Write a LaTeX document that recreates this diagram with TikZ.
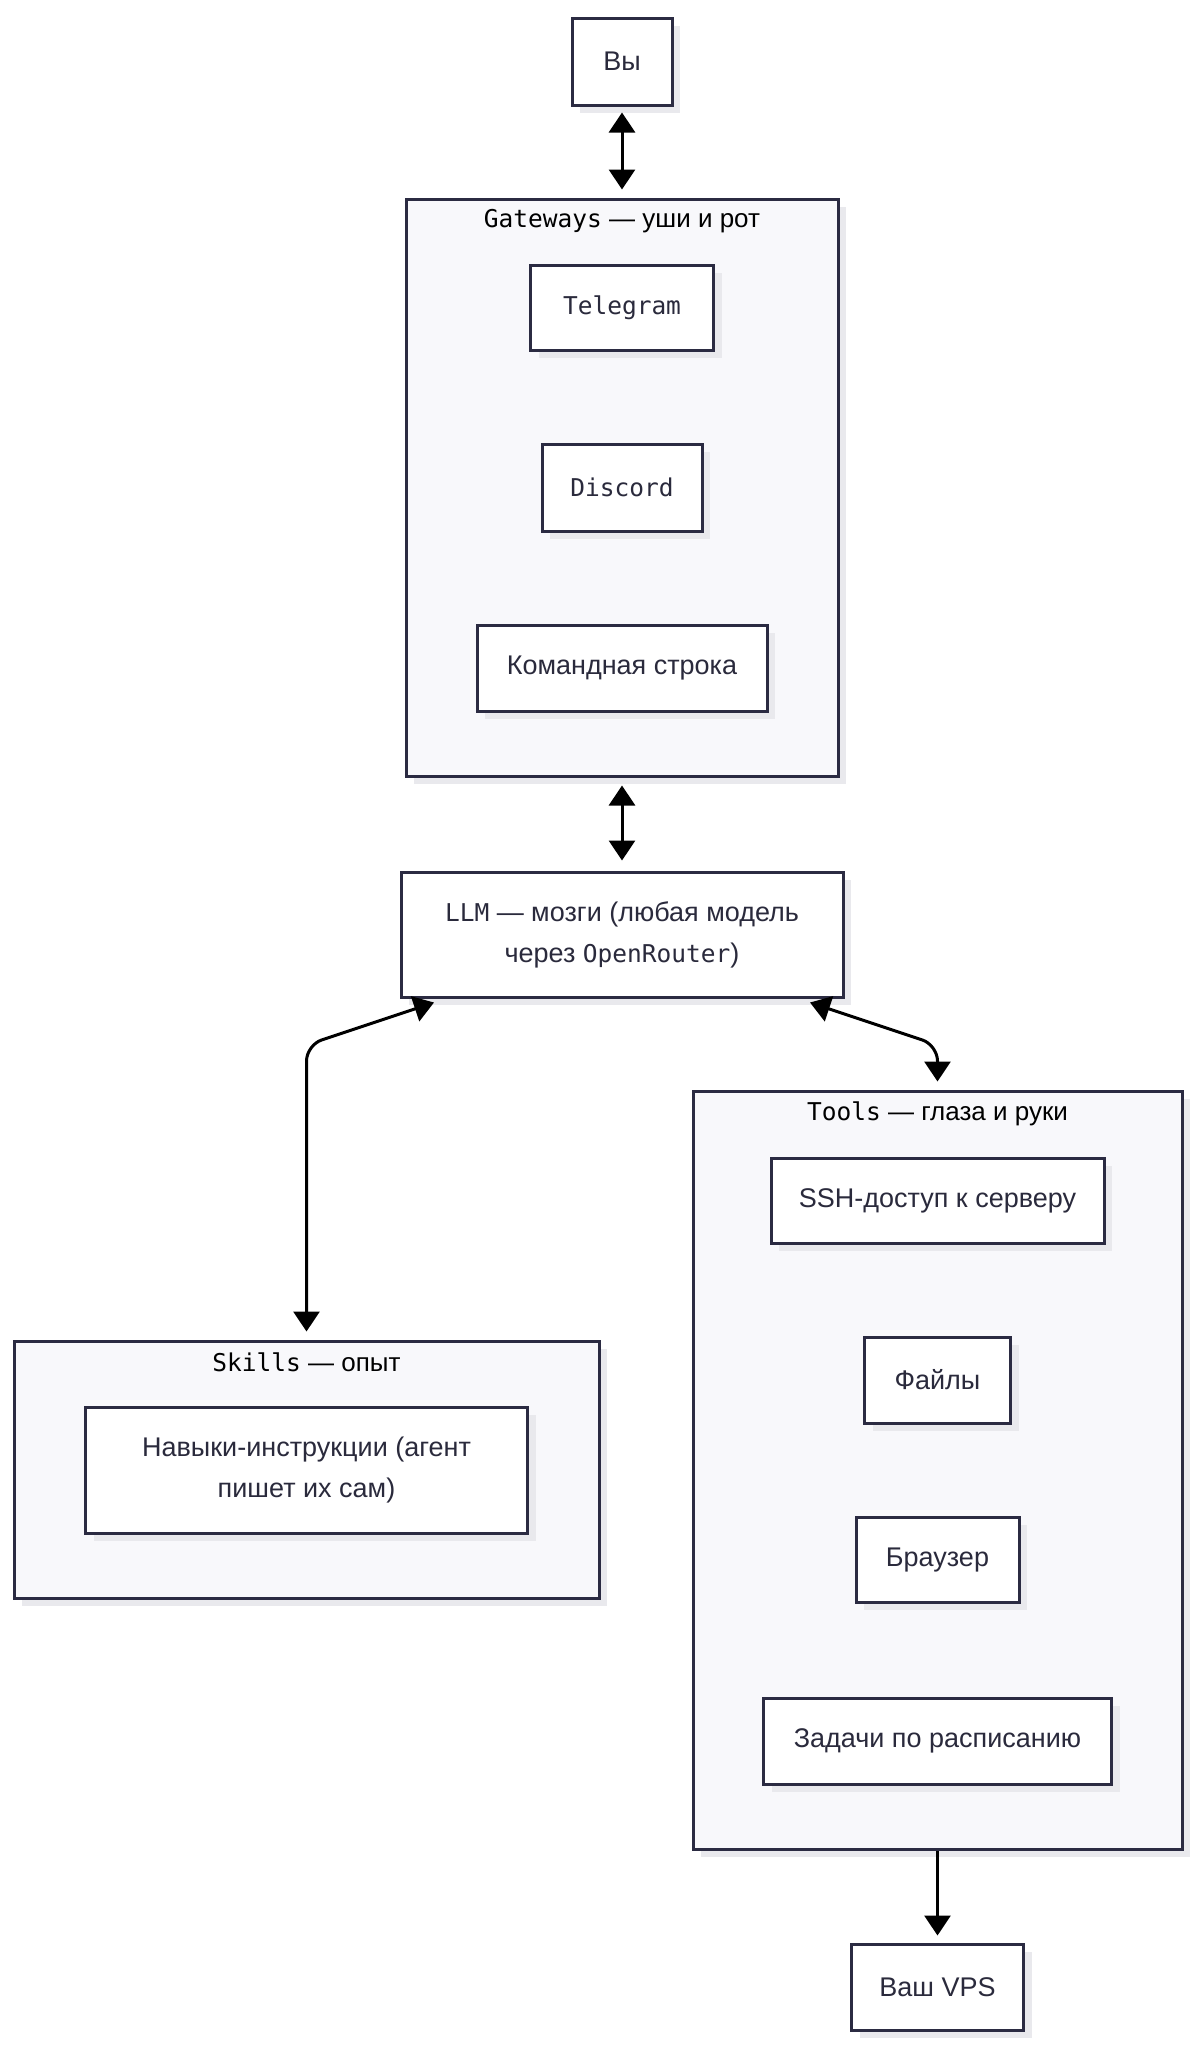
\documentclass[tikz,border=0pt]{standalone}
\usepackage{fontspec}
\setmainfont{Liberation Sans}
\newfontfamily\monofont{DejaVu Sans Mono}
\usetikzlibrary{arrows.meta,shadows,calc}
\definecolor{bordc}{HTML}{2B2B42}
\definecolor{txtc}{HTML}{2A2A3C}
\definecolor{clfill}{HTML}{F8F8FB}
\definecolor{shadc}{HTML}{E9E9ED}
\newcommand\mtxt[1]{{\monofont\fontsize{24.5}{41}\selectfont #1}}
\tikzset{
  boxbase/.style={draw=bordc, line width=3pt, inner sep=0pt,
    drop shadow={shadow xshift=8pt, shadow yshift=-8pt, fill=shadc, opacity=1}},
  nodebox/.style={boxbase, fill=white, text=txtc, align=center,
    font=\fontsize{27}{41}\selectfont},
  clusterbox/.style={boxbase, fill=clfill},
  cltitle/.style={text=black, inner sep=0pt, font=\fontsize{26}{34}\selectfont},
  conn/.style={draw=black, line width=3pt},
  tipd/.style={-{Triangle[length=20pt,width=26pt]}},
  tipdd/.style={{Triangle[length=20pt,width=26pt]}-{Triangle[length=20pt,width=26pt]}}
}
\begin{document}
\begin{tikzpicture}[x=1pt,y=-1pt]
\useasboundingbox (0,0) rectangle (1197,2048);
\fill[white] (0,0) rectangle (1197,2048);

% top node
\node[nodebox, minimum width=100pt, minimum height=87pt] (you) at (622,61.5) {Вы};

% Gateways cluster
\node[clusterbox, minimum width=432pt, minimum height=577pt] (gw) at (622,487.5) {};
\node[cltitle] (gwt) at ($(gw.north)+(0,24)$) {\mtxt{Gateways} — уши и рот};
\node[nodebox, minimum width=183pt, minimum height=85pt] (tg) at (622,307.5) {\mtxt{Telegram}};
\node[nodebox, minimum width=160pt, minimum height=87pt] (dc) at (622,487.5) {\mtxt{Discord}};
\node[nodebox, minimum width=290pt, minimum height=86pt] (cli) at (622,668) {Командная строка};

% LLM
\node[nodebox, minimum width=442pt, minimum height=125pt] (llm) at (622,934.5)
  {\mtxt{LLM} — мозги (любая модель\\через \mtxt{OpenRouter})};

% Skills cluster
\node[clusterbox, minimum width=585pt, minimum height=257pt] (sk) at (306.5,1469.5) {};
\node[cltitle] (skt) at ($(sk.north)+(0,23)$) {\mtxt{Skills} — опыт};
\node[nodebox, minimum width=442pt, minimum height=126pt] (skn) at (306.5,1470)
  {Навыки-инструкции (агент\\пишет их сам)};

% Tools cluster
\node[clusterbox, minimum width=489pt, minimum height=758pt] (tl) at (937.5,1470) {};
\node[cltitle] (tlt) at ($(tl.north)+(0,24)$) {\mtxt{Tools} — глаза и руки};
\node[nodebox, minimum width=333pt, minimum height=85pt] (ssh) at (937.5,1200.5) {SSH-доступ к серверу};
\node[nodebox, minimum width=146pt, minimum height=86pt] (files) at (937.5,1380) {Файлы};
\node[nodebox, minimum width=163pt, minimum height=85pt] (br) at (937.5,1559.5) {Браузер};
\node[nodebox, minimum width=348pt, minimum height=86pt] (sched) at (937.5,1741) {Задачи по расписанию};

% VPS
\node[nodebox, minimum width=172pt, minimum height=86pt] (vps) at (937.5,1987) {Ваш VPS};

% connectors
\draw[conn, tipdd, shorten <=6pt, shorten >=8pt] (you.south) -- (gw.north);
\draw[conn, tipdd, shorten <=8pt, shorten >=10pt] (gw.south) -- (llm.north);
\coordinate (skbend) at (sk.north |- 0,1045);
\coordinate (tlbend) at (tl.north |- 0,1045);
\draw[conn, tipdd, rounded corners=16pt] ($(llm.south)+(-188,4)$) -- (skbend) -- ($(sk.north)+(0,-8)$);
\draw[conn, tipdd, rounded corners=16pt] ($(llm.south)+(188,4)$) -- (tlbend) -- ($(tl.north)+(0,-8)$);
\draw[conn, tipd, shorten >=7pt] (tl.south) -- (vps.north);
\end{tikzpicture}
\end{document}
